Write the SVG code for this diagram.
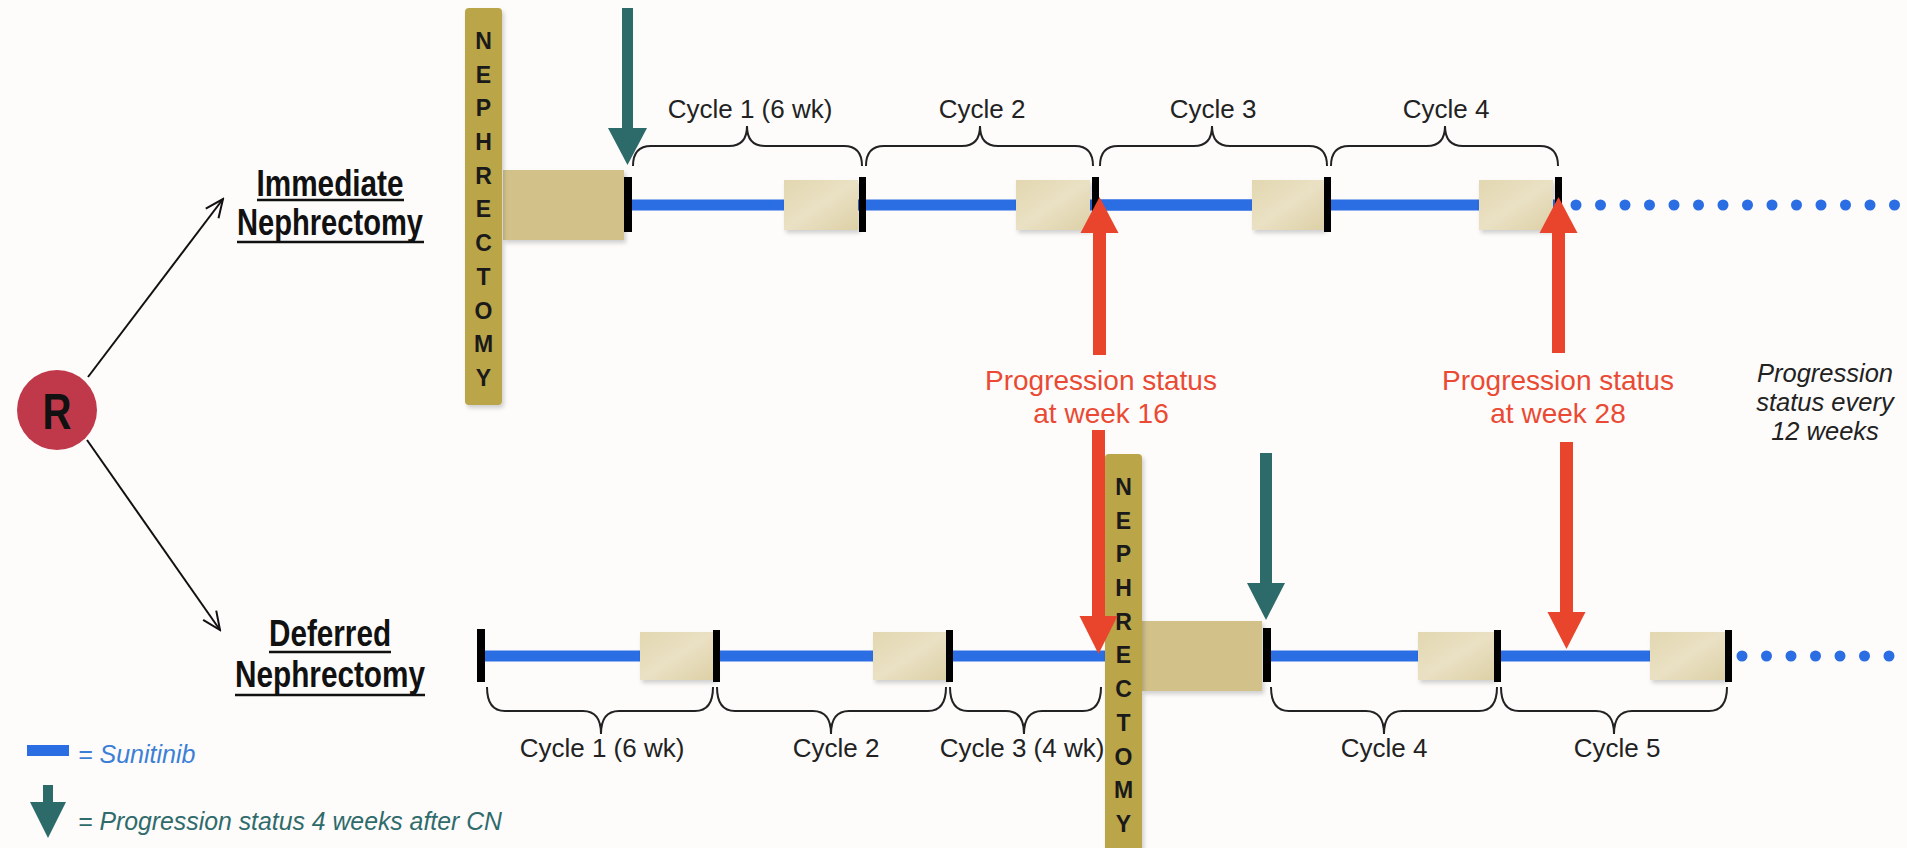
<svg xmlns="http://www.w3.org/2000/svg" width="1907" height="848" viewBox="0 0 1907 848">
<style>
.cyc{font-family:"Liberation Sans",Arial,sans-serif;font-size:26px;fill:#222;text-anchor:middle}
.arm{font-family:"Liberation Sans",Arial,sans-serif;font-weight:bold;font-size:36px;fill:#111;text-anchor:middle}
.red{font-family:"Liberation Sans",Arial,sans-serif;font-size:28px;fill:#EA4A33;text-anchor:middle}
.ital{font-family:"Liberation Sans",Arial,sans-serif;font-style:italic;font-size:25.5px;fill:#222;text-anchor:middle}
.neph{font-family:"Liberation Sans",Arial,sans-serif;font-weight:bold;font-size:23px;fill:#1a1a1a;text-anchor:middle}
.brace{fill:none;stroke:#222;stroke-width:2}
.blue{stroke:#2B6DE3;stroke-width:11;fill:none}
.dots{stroke:#2B6DE3;stroke-width:11;stroke-linecap:round;stroke-dasharray:0 24.5;fill:none}
.tick{fill:#000}
.bar{fill:#BBA548}
.big{fill:#D2C28A}
.small{fill:url(#sg)}
.teal{fill:#2D6B6A}
.redarr{fill:#E8452C}
.ul{stroke:#111;stroke-width:2.5}
</style>
<defs>
<linearGradient id="sg" x1="0" y1="0" x2="1" y2="1">
<stop offset="0" stop-color="#E2D7B0"/>
<stop offset="0.5" stop-color="#EAE1C4"/>
<stop offset="1" stop-color="#DDD0A6"/>
</linearGradient>
<filter id="sh" x="-10%" y="-10%" width="130%" height="130%">
<feDropShadow dx="2" dy="3" stdDeviation="2" flood-color="#000" flood-opacity="0.18"/>
</filter>
<marker id="open" markerWidth="22" markerHeight="22" refX="20" refY="11" orient="auto" markerUnits="userSpaceOnUse">
<path d="M2,3 L20,11 L2,19" fill="none" stroke="#111" stroke-width="2"/>
</marker>
</defs>
<rect width="1907" height="848" fill="#FDFCFB"/>

<g id="connectors">
<line x1="88" y1="377" x2="223" y2="199" stroke="#111" stroke-width="2" marker-end="url(#open)"/>
<line x1="87" y1="440" x2="220" y2="630" stroke="#111" stroke-width="2" marker-end="url(#open)"/>
</g>

<g id="randomize">
<circle cx="57" cy="410" r="40" fill="#C0394B"/>
<text x="57" y="429" font-family="'Liberation Sans',Arial,sans-serif" font-weight="bold" font-size="50" text-anchor="middle" fill="#111" textLength="29" lengthAdjust="spacingAndGlyphs">R</text>
</g>

<g id="arm-immediate-label">
<text class="arm" x="330" y="196" textLength="147" lengthAdjust="spacingAndGlyphs">Immediate</text>
<line class="ul" x1="257" y1="200" x2="404" y2="200"/>
<text class="arm" x="330" y="235" textLength="186" lengthAdjust="spacingAndGlyphs">Nephrectomy</text>
<line class="ul" x1="237" y1="242" x2="424" y2="242"/>
</g>

<g id="arm-deferred-label">
<text class="arm" x="330" y="646" textLength="122" lengthAdjust="spacingAndGlyphs">Deferred</text>
<line class="ul" x1="269" y1="652" x2="391" y2="652"/>
<text class="arm" x="330" y="687" textLength="190" lengthAdjust="spacingAndGlyphs">Nephrectomy</text>
<line class="ul" x1="235" y1="695" x2="425" y2="695"/>
</g>

<g id="immediate-timeline">
<line class="blue" x1="632" y1="205" x2="1558" y2="205"/>
<line class="blue" x1="1098" y1="205" x2="1252" y2="205" stroke-width="14"/>
<line class="dots" x1="1576" y1="205" x2="1912" y2="205"/>
<rect class="small" x="784" y="180" width="74" height="50" filter="url(#sh)"/>
<rect class="small" x="1016" y="180" width="74" height="50" filter="url(#sh)"/>
<rect class="small" x="1252" y="180" width="72" height="50" filter="url(#sh)"/>
<rect class="small" x="1479" y="180" width="74" height="50" filter="url(#sh)"/>
<rect class="tick" x="624" y="177" width="8" height="55"/>
<rect class="tick" x="859" y="177" width="7" height="55"/>
<rect class="tick" x="1092" y="177" width="7" height="55"/>
<rect class="tick" x="1324" y="177" width="7" height="55"/>
<rect class="tick" x="1555" y="177" width="7" height="55"/>
</g>

<g id="immediate-nephrectomy">
<rect class="big" x="503" y="170" width="121" height="70" filter="url(#sh)"/>
<rect class="bar" x="465" y="8" width="37" height="397" rx="4" filter="url(#sh)"/>
<text class="neph"><tspan x="483.5" y="49">N</tspan><tspan x="483.5" y="83">E</tspan><tspan x="483.5" y="116">P</tspan><tspan x="483.5" y="150">H</tspan><tspan x="483.5" y="184">R</tspan><tspan x="483.5" y="217">E</tspan><tspan x="483.5" y="251">C</tspan><tspan x="483.5" y="285">T</tspan><tspan x="483.5" y="319">O</tspan><tspan x="483.5" y="352">M</tspan><tspan x="483.5" y="386">Y</tspan></text>
</g>

<g id="immediate-cycles">
<path class="brace" d="M633,166 Q633,146 651,146 L729,146 Q747,146 747,126 Q747,146 765,146 L844,146 Q862,146 862,166"/>
<path class="brace" d="M866,166 Q866,146 884,146 L962,146 Q980,146 980,126 Q980,146 998,146 L1075,146 Q1093,146 1093,166"/>
<path class="brace" d="M1100,166 Q1100,146 1118,146 L1194,146 Q1212,146 1212,126 Q1212,146 1230,146 L1309,146 Q1327,146 1327,166"/>
<path class="brace" d="M1331,166 Q1331,146 1349,146 L1427,146 Q1445,146 1445,126 Q1445,146 1463,146 L1540,146 Q1558,146 1558,166"/>
<text class="cyc" x="750" y="118">Cycle 1 (6 wk)</text>
<text class="cyc" x="982" y="118">Cycle 2</text>
<text class="cyc" x="1213" y="118">Cycle 3</text>
<text class="cyc" x="1446" y="118">Cycle 4</text>
</g>

<g id="immediate-cn-arrow">
<rect class="teal" x="622" y="8" width="11" height="122"/>
<polygon class="teal" points="608,128 627.5,165 647,128"/>
</g>

<g id="deferred-timeline">
<line class="blue" x1="481" y1="656" x2="1110" y2="656"/>
<line class="blue" x1="1267" y1="656" x2="1728" y2="656"/>
<line class="dots" x1="1742" y1="656" x2="1912" y2="656"/>
<rect class="small" x="640" y="632" width="74" height="48" filter="url(#sh)"/>
<rect class="small" x="873" y="632" width="74" height="48" filter="url(#sh)"/>
<rect class="small" x="1418" y="632" width="76" height="48" filter="url(#sh)"/>
<rect class="small" x="1650" y="632" width="75" height="48" filter="url(#sh)"/>
<rect class="tick" x="477" y="629" width="8" height="53"/>
<rect class="tick" x="713" y="630" width="7" height="52"/>
<rect class="tick" x="946" y="630" width="7" height="52"/>
<rect class="tick" x="1263" y="628" width="8" height="54"/>
<rect class="tick" x="1494" y="630" width="7" height="52"/>
<rect class="tick" x="1725" y="630" width="7" height="52"/>
</g>

<g id="deferred-nephrectomy">
<rect class="big" x="1142" y="621" width="120" height="70" filter="url(#sh)"/>
<rect class="bar" x="1105" y="454" width="37" height="410" rx="4" filter="url(#sh)"/>
<text class="neph"><tspan x="1123.5" y="495">N</tspan><tspan x="1123.5" y="529">E</tspan><tspan x="1123.5" y="562">P</tspan><tspan x="1123.5" y="596">H</tspan><tspan x="1123.5" y="630">R</tspan><tspan x="1123.5" y="663">E</tspan><tspan x="1123.5" y="697">C</tspan><tspan x="1123.5" y="731">T</tspan><tspan x="1123.5" y="765">O</tspan><tspan x="1123.5" y="798">M</tspan><tspan x="1123.5" y="832">Y</tspan></text>
</g>

<g id="deferred-cycles">
<path class="brace" d="M487,687 Q487,711 505,711 L583,711 Q601,711 601,734 Q601,711 619,711 L695,711 Q713,711 713,687"/>
<path class="brace" d="M717,687 Q717,711 735,711 L813,711 Q831,711 831,734 Q831,711 849,711 L928,711 Q946,711 946,687"/>
<path class="brace" d="M950,687 Q950,711 968,711 L1006,711 Q1024,711 1024,734 Q1024,711 1042,711 L1083,711 Q1101,711 1101,687"/>
<path class="brace" d="M1271,687 Q1271,711 1289,711 L1366,711 Q1384,711 1384,734 Q1384,711 1402,711 L1479,711 Q1497,711 1497,687"/>
<path class="brace" d="M1501,687 Q1501,711 1519,711 L1596,711 Q1614,711 1614,734 Q1614,711 1632,711 L1709,711 Q1727,711 1727,687"/>
<text class="cyc" x="602" y="757">Cycle 1 (6 wk)</text>
<text class="cyc" x="836" y="757">Cycle 2</text>
<text class="cyc" x="1022" y="757">Cycle 3 (4 wk)</text>
<text class="cyc" x="1384" y="757">Cycle 4</text>
<text class="cyc" x="1617" y="757">Cycle 5</text>
</g>

<g id="deferred-cn-arrow">
<rect class="teal" x="1260" y="453" width="12" height="132"/>
<polygon class="teal" points="1247,583 1266,620 1285,583"/>
</g>

<g id="week16">
<rect class="redarr" x="1093" y="231" width="13" height="124"/>
<polygon class="redarr" points="1080.5,233 1099.5,197 1118.5,233"/>
<text class="red" x="1101" y="390">Progression status</text>
<text class="red" x="1101" y="423">at week 16</text>
<rect class="redarr" x="1092" y="430" width="13" height="188"/>
<polygon class="redarr" points="1079.5,616 1098.5,654 1117.5,616"/>
</g>

<g id="week28">
<rect class="redarr" x="1552" y="231" width="13" height="122"/>
<polygon class="redarr" points="1539.5,233 1558.5,197 1577.5,233"/>
<text class="red" x="1558" y="390">Progression status</text>
<text class="red" x="1558" y="423">at week 28</text>
<rect class="redarr" x="1560" y="442" width="13" height="172"/>
<polygon class="redarr" points="1547.5,612 1566.5,649 1585.5,612"/>
</g>

<g id="every12">
<text class="ital" x="1825" y="382">Progression</text>
<text class="ital" x="1825" y="411">status every</text>
<text class="ital" x="1825" y="440">12 weeks</text>
</g>

<g id="legend">
<rect x="27" y="745" width="42" height="11" fill="#2B6DE3"/>
<text x="78" y="763" font-family="'Liberation Sans',Arial,sans-serif" font-style="italic" font-size="25" fill="#3C7FD6">= Sunitinib</text>
<rect class="teal" x="43" y="785" width="10" height="19"/>
<polygon class="teal" points="30,802 48,838 66,802"/>
<text x="78" y="830" font-family="'Liberation Sans',Arial,sans-serif" font-style="italic" font-size="26" fill="#2F6B6B" textLength="424" lengthAdjust="spacingAndGlyphs">= Progression status 4 weeks after CN</text>
</g>
</svg>
